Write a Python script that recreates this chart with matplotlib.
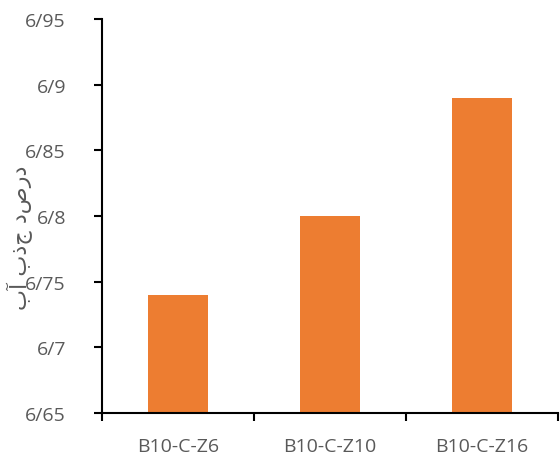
import matplotlib
matplotlib.use("Agg")
import matplotlib.pyplot as plt
from matplotlib.ticker import FixedLocator, FuncFormatter

categories = ["B10-C-Z6", "B10-C-Z10", "B10-C-Z16"]
values = [6.74, 6.80, 6.89]
y_ticks = [6.65, 6.70, 6.75, 6.80, 6.85, 6.90, 6.95]
y_label = "درصد جذب آب"

bar_color = "#ED7D31"
text_color = "#595959"

fig = plt.figure(figsize=(5.6, 4.56), dpi=100)
ax = fig.add_axes([102 / 560, 1 - 414 / 456, 456 / 560, 394 / 456])

x = list(range(len(categories)))
ax.bar(x, [v - y_ticks[0] for v in values], bottom=y_ticks[0], width=0.4,
       color=bar_color, zorder=2)

ax.set_xlim(-0.5, len(categories) - 0.5)
ax.set_ylim(y_ticks[0], y_ticks[-1])

ax.yaxis.set_major_locator(FixedLocator(y_ticks))
ax.yaxis.set_major_formatter(FuncFormatter(
    lambda v, p: ("%g" % round(v, 2)).replace(".", "/")))

ax.set_xticks([i - 0.5 for i in range(len(categories) + 1)], minor=False)
ax.set_xticklabels([])
ax.set_xticks(x, minor=True)
ax.set_xticklabels(categories, minor=True)
ax.tick_params(axis="x", which="major", direction="out", length=6, width=1.5,
               color="black")
ax.tick_params(axis="x", which="minor", length=0, pad=17,
               labelsize=14, labelcolor=text_color)
ax.tick_params(axis="y", direction="out", length=6, width=1.5, color="black",
               pad=20, labelsize=14, labelcolor=text_color)

for lab in ax.get_xticklabels(minor=True) + ax.get_yticklabels():
    lab.set_family(["Open Sans", "DejaVu Sans"])

for side in ("top", "right"):
    ax.spines[side].set_visible(False)
for side in ("left", "bottom"):
    ax.spines[side].set_linewidth(1.5)
    ax.spines[side].set_color("black")

# Persian letters are laid out left to right, so the glyph order is reversed
fig.text(20 / 560, 1 - 238 / 456, y_label[::-1], rotation=90,
         ha="center", va="center", fontsize=16, color=text_color,
         family=["DejaVu Sans"])

fig.savefig("out.png", dpi=100)
